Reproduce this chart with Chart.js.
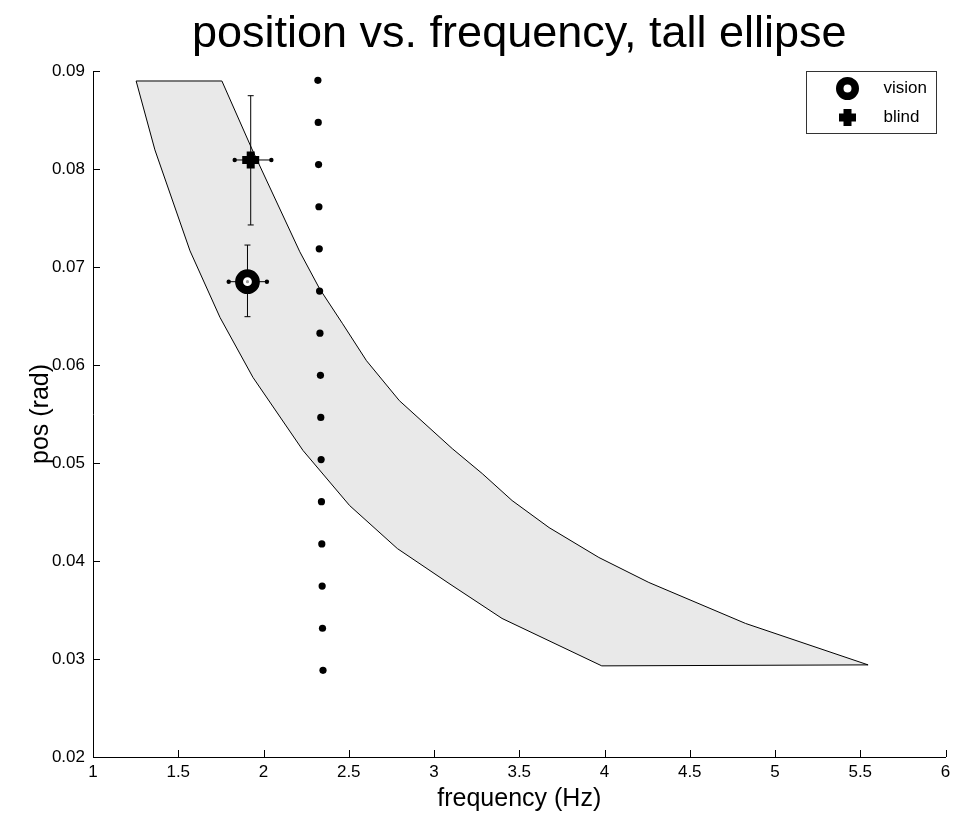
<!DOCTYPE html>
<html>
<head>
<meta charset="utf-8">
<script src="https://cdn.jsdelivr.net/npm/chart.js@4.4.1/dist/chart.umd.min.js"></script>
<style>
  html, body { margin: 0; padding: 0; background: #fff; }
  #wrap { width: 962px; height: 816px; }
</style>
</head>
<body>
<div id="wrap"><canvas id="grafik"></canvas></div>
<script>
// ===== DATA =====
const xTicks = [1, 1.5, 2, 2.5, 3, 3.5, 4, 4.5, 5, 5.5, 6];
const yTicks = [0.02, 0.03, 0.04, 0.05, 0.06, 0.07, 0.08, 0.09];

// shaded band, outline going round (top edge, upper curve, bottom edge, lower curve)
const bandX = [1.253, 1.756, 1.932, 2.213, 2.329, 2.464, 2.604, 2.797, 3.107, 3.283, 3.458, 3.675, 3.967, 4.260, 4.827, 5.546,
               3.984, 3.399, 3.088, 2.785, 2.505, 2.232, 1.938, 1.745, 1.569, 1.363, 1.253];
const bandY = [0.08898, 0.08898, 0.08205, 0.07155, 0.06778, 0.06421, 0.06044, 0.05636, 0.05147, 0.04892, 0.04617, 0.04341, 0.04036, 0.03781, 0.03363, 0.0294,
               0.0293, 0.03414, 0.03771, 0.04127, 0.04566, 0.05127, 0.05874, 0.06485, 0.07165, 0.08195, 0.08898];

// dotted vertical line
const dotX = [2.319, 2.321, 2.323, 2.325, 2.327, 2.329, 2.331, 2.334, 2.336, 2.338, 2.340, 2.342, 2.344, 2.346, 2.349];
const dotY = [0.08905, 0.08475, 0.08045, 0.07615, 0.07185, 0.06754, 0.06325, 0.05895, 0.05465, 0.05035, 0.04605, 0.04174, 0.03744, 0.03314, 0.02884];

// vision / blind: centre, x error range, y error range
const visionPos = [1.906, 0.0685];
const visionXErr = [1.796, 2.020];
const visionYErr = [0.06493, 0.07224];
const blindPos = [1.925, 0.08092];
const blindXErr = [1.831, 2.046];
const blindYErr = [0.07429, 0.08748];

const FONT = "'Liberation Sans', Arial, Helvetica, sans-serif";
Chart.defaults.font.family = FONT;
Chart.defaults.color = '#000';

const titikTitik = (xs, ys) => xs.map((x, i) => ({x: x, y: ys[i]}));

// ===== PLUGIN: ticks ke dalam =====
const tickDalam = {
  id: 'tickDalam',
  afterDraw(chart) {
    const {ctx, chartArea, scales} = chart;
    ctx.save();
    ctx.strokeStyle = '#000';
    ctx.lineWidth = 1;
    ctx.beginPath();
    xTicks.forEach(v => {
      const px = Math.round(scales.x.getPixelForValue(v)) + 0.5;
      ctx.moveTo(px, chartArea.bottom);
      ctx.lineTo(px, chartArea.bottom - 7);
    });
    yTicks.forEach(v => {
      const py = Math.round(scales.y.getPixelForValue(v)) + 0.5;
      ctx.moveTo(chartArea.left, py);
      ctx.lineTo(chartArea.left + 7, py);
    });
    ctx.stroke();
    ctx.restore();
  }
};

// ===== PLUGIN: legenda kotak =====
const legendaKotak = {
  id: 'legendaKotak',
  afterDraw(chart) {
    const {ctx, chartArea} = chart;
    const x0 = Math.round(chartArea.right) - 140 + 0.5;
    const y0 = Math.round(chartArea.top) + 0.5;
    ctx.save();
    ctx.fillStyle = '#fff';
    ctx.fillRect(x0, y0, 130, 62);
    ctx.strokeStyle = '#333';
    ctx.lineWidth = 1;
    ctx.strokeRect(x0, y0, 130, 62);

    // vision
    const mx = x0 + 41, r1 = y0 + 17, r2 = y0 + 46;
    ctx.beginPath();
    ctx.arc(mx, r1, 7.75, 0, Math.PI * 2);
    ctx.lineWidth = 7.5;
    ctx.strokeStyle = '#000';
    ctx.stroke();
    // blind
    ctx.fillStyle = '#000';
    ctx.fillRect(mx - 8.5, r2 - 4, 17, 8);
    ctx.fillRect(mx - 4, r2 - 8.5, 8, 17);

    ctx.font = '17px ' + FONT;
    ctx.textBaseline = 'middle';
    ctx.textAlign = 'left';
    ctx.fillText('vision', x0 + 77, r1);
    ctx.fillText('blind', x0 + 77, r2);
    ctx.restore();
  }
};

// ===== CHART =====
new Chart(document.getElementById('grafik'), {
  type: 'scatter',
  data: {
    datasets: [
      {
        label: 'band',
        data: titikTitik(bandX, bandY),
        showLine: true,
        tension: 0,
        fill: 'shape',
        backgroundColor: '#e9e9e9',
        borderColor: '#000',
        borderWidth: 1,
        pointRadius: 0,
        order: 10
      },
      {
        label: 'dots',
        data: titikTitik(dotX, dotY),
        pointRadius: 3.6,
        pointBackgroundColor: '#000',
        pointBorderWidth: 0,
        order: 5
      },
      // error bars vision
      {
        label: 'vision yerr',
        data: visionYErr.map(y => ({x: visionPos[0], y: y})),
        showLine: true, borderColor: '#000', borderWidth: 1,
        pointStyle: 'line', pointRadius: 3, pointBorderColor: '#000', pointBorderWidth: 1,
        order: 2
      },
      {
        label: 'vision xerr',
        data: visionXErr.map(x => ({x: x, y: visionPos[1]})),
        showLine: true, borderColor: '#000', borderWidth: 1,
        pointRadius: 2.2, pointBackgroundColor: '#000', pointBorderWidth: 0,
        order: 2
      },
      // error bars blind
      {
        label: 'blind yerr',
        data: blindYErr.map(y => ({x: blindPos[0], y: y})),
        showLine: true, borderColor: '#000', borderWidth: 1,
        pointStyle: 'line', pointRadius: 3, pointBorderColor: '#000', pointBorderWidth: 1,
        order: 2
      },
      {
        label: 'blind xerr',
        data: blindXErr.map(x => ({x: x, y: blindPos[1]})),
        showLine: true, borderColor: '#000', borderWidth: 1,
        pointRadius: 2.2, pointBackgroundColor: '#000', pointBorderWidth: 0,
        order: 2
      },
      {
        label: 'vision',
        data: [{x: visionPos[0], y: visionPos[1]}],
        pointStyle: 'circle',
        pointRadius: 8.4,
        pointBorderWidth: 8,
        pointBorderColor: '#000',
        pointBackgroundColor: '#fff',
        order: 1
      },
      {
        label: 'vision centre',
        data: [{x: visionPos[0], y: visionPos[1]}],
        pointRadius: 1.6,
        pointBackgroundColor: '#999',
        pointBorderWidth: 0,
        order: 0
      },
      {
        label: 'blind',
        data: [{x: blindPos[0], y: blindPos[1]}],
        pointStyle: 'cross',
        pointRadius: 8.5,
        pointBorderWidth: 8,
        pointBorderColor: '#000',
        order: 1
      }
    ]
  },
  options: {
    responsive: true,
    maintainAspectRatio: false,
    devicePixelRatio: 1,
    animation: false,
    events: [],
    layout: { padding: { left: 0, right: 14, top: 0, bottom: 0 } },
    plugins: {
      legend: { display: false },
      tooltip: { enabled: false },
      title: {
        display: true,
        text: 'position vs. frequency, tall ellipse',
        fullSize: false,
        color: '#000',
        font: { size: 45, weight: 'normal', family: FONT },
        padding: { top: 8, bottom: 9 }
      }
    },
    scales: {
      x: {
        type: 'linear',
        min: 1, max: 6,
        afterBuildTicks: s => { s.ticks = xTicks.map(v => ({value: v})); },
        afterFit: s => { s.height = 59; },
        grid: { display: false, drawTicks: false },
        border: { display: true, color: '#000', width: 1 },
        ticks: { font: { size: 17 }, color: '#000', padding: 5, maxRotation: 0, autoSkip: false,
                 callback: v => String(v) },
        title: { display: true, text: 'frequency (Hz)', color: '#000',
                 font: { size: 25 }, padding: { top: 0, bottom: 2 } }
      },
      y: {
        type: 'linear',
        min: 0.02, max: 0.09,
        afterBuildTicks: s => { s.ticks = yTicks.map(v => ({value: v})); },
        afterFit: s => { s.width = 93; },
        grid: { display: false, drawTicks: false },
        border: { display: true, color: '#000', width: 1 },
        ticks: { font: { size: 17 }, color: '#000', padding: 8, autoSkip: false,
                 callback: v => v.toFixed(2) },
        title: { display: true, text: 'pos (rad)', color: '#000',
                 font: { size: 25 }, padding: { top: 26, bottom: 0 } }
      }
    }
  },
  plugins: [tickDalam, legendaKotak]
});
</script>
</body>
</html>
